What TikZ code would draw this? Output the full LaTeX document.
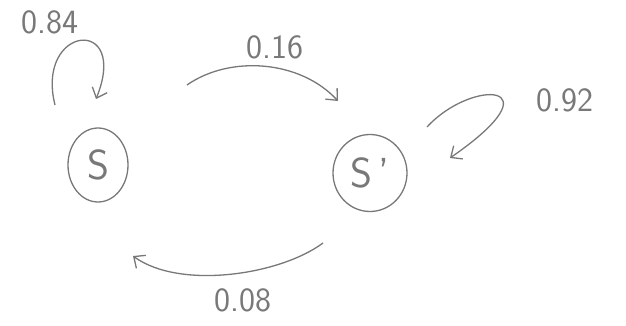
\documentclass[tikz,border=0pt]{standalone}
\usetikzlibrary{arrows.meta,shapes.geometric}
\definecolor{pencil}{RGB}{120,120,120}
\begin{document}
\begin{tikzpicture}[x=1pt,y=-1pt,
  state/.style={draw=pencil,ellipse,line width=1.3pt,text=pencil,inner sep=0pt,font=\sffamily\fontsize{42}{42}\selectfont},
  edge/.style={draw=pencil,line width=1.3pt,-{Straight Barb[length=9pt,width=16pt]}},
  lbl/.style={text=pencil,font=\sffamily\fontsize{34}{34}\selectfont}]
\useasboundingbox (0,0) rectangle (626,326);
\node[state,minimum width=60pt,minimum height=74pt] (S) at (98,165) {S};
\node[state,minimum width=74pt,minimum height=77pt] (Sp) at (370,173) {S\,'};
% self-loop on S
\coordinate (l1a) at (55,105);
\coordinate (l1b) at (96,99);
\draw[edge] (l1a) .. controls (35,25) and (130,15) .. (l1b);
\node[lbl] (t084) at (50,22) {0.84};
% S -> S'
\coordinate (a1) at (187,85);
\coordinate (a2) at (338,101);
\draw[edge] (a1) .. controls (230,55) and (300,60) .. (a2);
\node[lbl] (t016) at (275,47) {0.16};
% self-loop on S'
\coordinate (l2a) at (427,127);
\coordinate (l2b) at (450,158);
\draw[edge] (l2a) .. controls (472,78) and (560,82) .. (l2b);
\node[lbl] (t092) at (565,100) {0.92};
% S' -> S
\coordinate (b1) at (323,243);
\coordinate (b2) at (133,256);
\draw[edge] (b1) .. controls (280,275) and (180,290) .. (b2);
\node[lbl] (t008) at (243,300) {0.08};
\end{tikzpicture}
\end{document}
